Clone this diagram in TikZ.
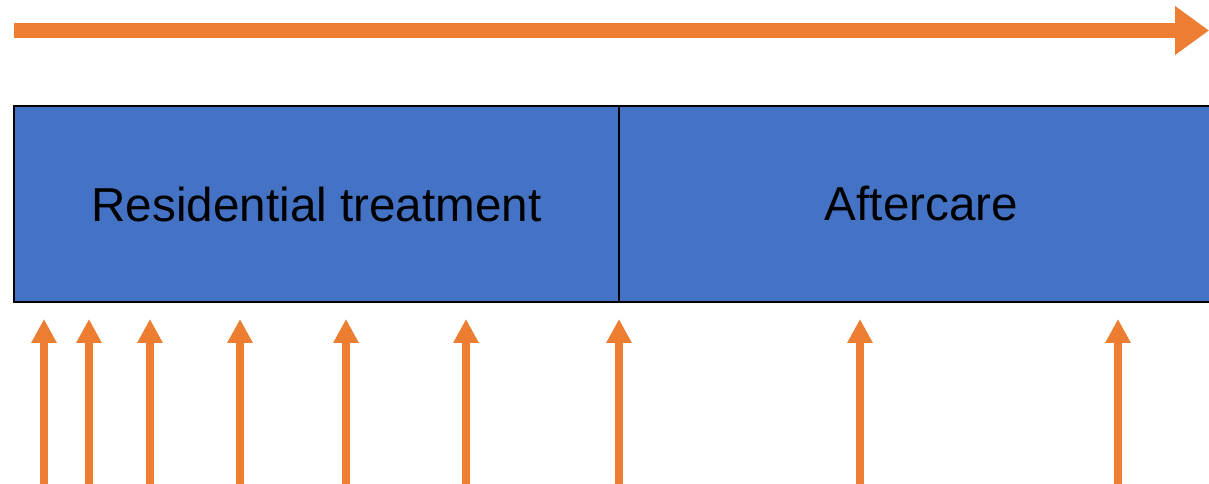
\documentclass[tikz,border=0pt]{standalone}
\usepackage{fontspec}
\setmainfont{Liberation Sans}
\usepackage{tikz}
\usetikzlibrary{arrows.meta,positioning}

\definecolor{phaseblue}{RGB}{68,114,196}
\definecolor{arroworange}{RGB}{237,125,49}

\tikzset{
  phase/.style={draw=black, line width=1.5pt, fill=phaseblue, inner sep=0pt,
    outer sep=0pt, minimum width=453.75pt, minimum height=147pt,
    font=\fontsize{35.7}{43}\selectfont},
  timeline/.style={draw=arroworange, line width=11.25pt,
    -{Triangle[width=35pt,length=25.5pt]}},
  visit/.style={draw=arroworange, line width=6pt,
    -{Triangle[width=18pt,length=18pt]}}
}

\begin{document}
\begin{tikzpicture}[x=0.75pt,y=0.75pt,yscale=-1,xscale=1]
\useasboundingbox (0,0) rectangle (1209,484);

%Time line
\coordinate (tstart) at (14,30.5);
\coordinate (tend) at (1209,30.5);
\draw [timeline] (tstart) -- (tend);

%Phases
\node [phase, anchor=north west] (res) at (14,106) {Residential treatment};
\node [phase, anchor=north west] (after) at (res.north east) {Aftercare};

%Measurement points
\foreach \x [count=\i] in {44,89,150,240,346,466,619,860,1118} {
  \coordinate (low\i) at (\x,490);
  \coordinate (tip\i) at (\x,319);
  \draw [visit] (low\i) -- (tip\i);
}

\end{tikzpicture}
\end{document}
